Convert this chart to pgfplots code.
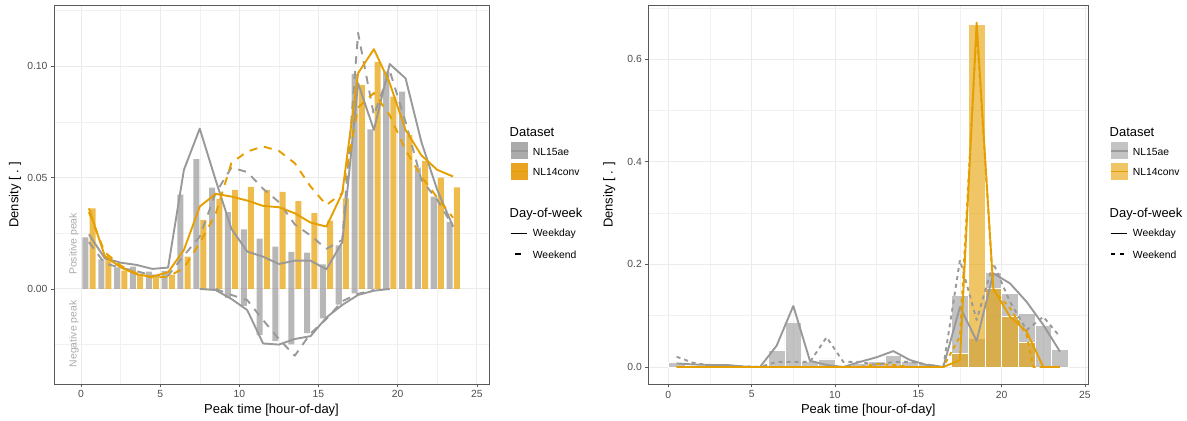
\documentclass[border=0pt]{standalone}
\usepackage{fontspec}
\setmainfont{Liberation Sans}
\usepackage{pgfplots}
\usepackage{pgfplotstable}
\pgfplotsset{compat=1.18}

\definecolor{nlgrey}{HTML}{999999}
\definecolor{nlorange}{HTML}{E69F00}
\definecolor{gridcol}{HTML}{EBEBEB}
\definecolor{ticktext}{HTML}{4D4D4D}
\definecolor{framecol}{HTML}{595959}
\definecolor{annot}{HTML}{ABABAB}

% ---- left panel: hourly peak densities, positive and negative ----
\pgfplotstableread{
h grey orange
0 0.0232 0.0362
1 0.0133 0.0148
2 0.0097 0.0082
3 0.0100 0.0067
4 0.0078 0.0055
5 0.0081 0.0064
6 0.0424 0.0145
7 0.0583 0.0310
8 0.0455 0.0405
9 0.0345 0.0445
10 0.0268 0.0458
11 0.0226 0.0445
12 0.0190 0.0436
13 0.0166 0.0394
14 0.0163 0.0340
15 0.0110 0.0307
16 0.0196 0.0407
17 0.0966 0.0916
18 0.0717 0.1020
19 0.0976 0.0864
20 0.0886 0.0692
21 0.0545 0.0575
22 0.0415 0.0500
23 0.0300 0.0456
}\leftpos

\pgfplotstableread{
h neg
9 -0.0040
10 -0.0076
11 -0.0207
12 -0.0234
13 -0.0249
14 -0.0199
15 -0.0132
16 -0.0070
17 -0.0020
}\leftneg

\pgfplotstableread{
t gs gd os od
0.5 0.0245 0.0210 0.0362 0.0345
1.5 0.0138 0.0115 0.0148 0.0165
2.5 0.0118 0.0095 0.0097 0.0105
3.5 0.0108 0.0080 0.0066 0.0070
4.5 0.0090 0.0060 0.0055 0.0050
5.5 0.0096 0.0060 0.0075 0.0055
6.5 0.0535 0.0150 0.0175 0.0094
7.5 0.0720 0.0235 0.0370 0.0207
8.5 0.0490 0.0430 0.0427 0.0335
9.5 0.0270 0.0545 0.0415 0.0566
10.5 0.0168 0.0525 0.0397 0.0617
11.5 0.0145 0.0450 0.0373 0.0640
12.5 0.0112 0.0390 0.0367 0.0620
13.5 0.0127 0.0290 0.0340 0.0565
14.5 0.0127 0.0240 0.0298 0.0460
15.5 0.0088 0.0180 0.0280 0.0377
16.5 0.0210 0.0220 0.0430 0.0430
17.5 0.0924 0.1150 0.0969 0.0815
18.5 0.0714 0.0780 0.1077 0.0880
19.5 0.1010 0.0980 0.0924 0.0780
20.5 0.0946 0.0750 0.0714 0.0624
21.5 0.0660 0.0490 0.0600 0.0505
22.5 0.0445 0.0400 0.0535 0.0410
23.5 0.0280 0.0280 0.0505 0.0320
}\leftlines

% ---- right panel: overlapping histograms ----
\pgfplotstableread{
h grey
0 0.0090
1 0.0040
2 0.0030
3 0.0030
4 0.0010
6 0.0320
7 0.0880
8 0.0120
9 0.0156
10 0.0030
11 0.0080
12 0.0117
13 0.0230
14 0.0117
15 0.0070
17 0.1400
18 0.0560
19 0.1845
20 0.1435
21 0.1046
22 0.0818
23 0.0344
}\rightgrey

\pgfplotstableread{
h orange
17 0.0266
18 0.6680
19 0.1530
20 0.0980
21 0.0490
}\rightorange

\pgfplotstableread{
t gs gd os
0.5 0.0070 0.0200 0
1.5 0.0050 0.0080 0
2.5 0.0040 0.0030 0
3.5 0.0040 0.0020 0
4.5 0.0010 0.0010 0
5.5 0.0000 0.0000 0
6.5 0.0415 0.0100 0
7.5 0.1190 0.0100 0
8.5 0.0120 0.0100 0
9.5 0.0040 0.0580 0
10.5 0.0000 0.0100 0
11.5 0.0100 0.0100 0
12.5 0.0190 0.0040 0
13.5 0.0310 0.0100 0
14.5 0.0136 0.0100 0
15.5 0.0040 0.0050 0
16.5 0.0000 0.0000 0
17.5 0.1170 0.2085 0.0136
18.5 0.0510 0.0916 0.6710
19.5 0.1825 0.2020 0.1530
20.5 0.1630 0.1270 0.0980
21.5 0.1270 0.0720 0.0690
22.5 0.0820 0.0980 0
23.5 0.0300 0.0590 0
}\rightlines

\pgfplotsset{
  panel/.style={
    scale only axis, anchor=south west,
    axis line style={draw=framecol, line width=0.6bp},
    tick style={color=framecol, line width=0.6bp},
    tick align=outside, major tick length=3bp, minor tick length=0pt,
    xtick pos=bottom, ytick pos=left,
    grid=both,
    major grid style={draw=gridcol, line width=0.9bp},
    minor grid style={draw=gridcol!70, line width=0.5bp},
    ticklabel style={font=\fontsize{10.4}{12}\selectfont, text=ticktext},
    /pgf/number format/assume math mode=true,
    scaled ticks=false,
    every axis x label/.style={at={(rel axis cs:0.5,0)}, yshift=-26bp, anchor=center, font=\fontsize{13}{15}\selectfont},
    every axis y label/.style={at={(rel axis cs:0,0.5)}, xshift=-39bp, rotate=90, anchor=center, font=\fontsize{13}{15}\selectfont},
    xlabel={Peak time [hour-of-day]},
    ylabel={Density [ . ]},
    xtick={0,5,10,15,20,25},
    minor xtick={2.5,7.5,12.5,17.5,22.5},
  },
  ln/.style={line width=1.9bp, line join=round, no markers},
}

\begin{document}
\begin{tikzpicture}
\path[use as bounding box] (0,0) rectangle (1187bp,421bp);

\begin{axis}[panel,
  at={(54bp,37bp)}, width=435bp, height=378.7bp,
  xmin=-1.706, xmax=25.77, ymin=-0.0427, ymax=0.1274,
  ytick={0,0.05,0.1}, minor ytick={-0.025,0.025,0.075,0.125},
  yticklabel style={/pgf/number format/.cd, fixed, fixed zerofill, precision=2},
]
\addplot[ybar, bar width=0.38, bar shift=0pt, fill=nlgrey, fill opacity=0.7, draw=none]
  table[x expr=\thisrow{h}+0.28, y=grey] {\leftpos};
\addplot[ybar, bar width=0.38, bar shift=0pt, fill=nlorange, fill opacity=0.7, draw=none]
  table[x expr=\thisrow{h}+0.735, y=orange] {\leftpos};
\addplot[ybar, bar width=0.38, bar shift=0pt, fill=nlgrey, fill opacity=0.7, draw=none]
  table[x expr=\thisrow{h}+0.28, y=neg] {\leftneg};

\addplot[ln, nlgrey] table[x=t, y=gs] {\leftlines};
\addplot[ln, nlgrey, dash pattern=on 8bp off 7bp] table[x=t, y=gd] {\leftlines};
\addplot[ln, nlgrey] coordinates {
  (7.5,0) (8.5,-0.0005) (9.5,-0.0045) (10.5,-0.0095) (11.5,-0.0245) (12.5,-0.0250)
  (13.5,-0.0225) (14.5,-0.0212) (15.5,-0.0128) (16.5,-0.0072) (17.5,-0.0027)
  (18.5,-0.0008) (19.5,0)};
\addplot[ln, nlgrey, dash pattern=on 8bp off 7bp] coordinates {
  (8.5,0) (9.5,-0.0027) (10.5,-0.0050) (11.5,-0.0140) (12.5,-0.0225) (13.5,-0.0300)
  (14.5,-0.0200) (15.5,-0.0135) (16.5,-0.0055) (17.5,-0.0022) (18.5,-0.0005)};
\addplot[ln, nlorange] table[x=t, y=os] {\leftlines};
\addplot[ln, nlorange, dash pattern=on 8bp off 7bp] table[x=t, y=od] {\leftlines};

\node[rotate=90, text=annot, font=\fontsize{10.4}{12}\selectfont] at (axis cs:-0.44,0.0202) {Positive peak};
\node[rotate=90, text=annot, font=\fontsize{10.4}{12}\selectfont] at (axis cs:-0.44,-0.0202) {Negative peak};
\end{axis}

\begin{axis}[panel,
  at={(648.3bp,36.7bp)}, width=440bp, height=378.6bp,
  xmin=-1.2, xmax=25.2, ymin=-0.0337, ymax=0.704,
  ytick={0,0.2,0.4,0.6}, minor ytick={0.1,0.3,0.5,0.7},
  yticklabel style={/pgf/number format/.cd, fixed, fixed zerofill, precision=1},
]
\addplot[ybar, bar width=1, bar shift=0pt, fill=nlgrey, fill opacity=0.6, draw=white, line width=0.6bp]
  table[x expr=\thisrow{h}+0.5, y=grey] {\rightgrey};
\addplot[ybar, bar width=1, bar shift=0pt, fill=nlorange, fill opacity=0.6, draw=white, line width=0.6bp]
  table[x expr=\thisrow{h}+0.5, y=orange] {\rightorange};

\addplot[ln, nlgrey] table[x=t, y=gs] {\rightlines};
\addplot[ln, nlgrey, dash pattern=on 4bp off 4bp] table[x=t, y=gd] {\rightlines};
\addplot[ln, nlorange] table[x=t, y=os] {\rightlines};
\addplot[ln, nlorange, dash pattern=on 4bp off 4bp] coordinates {
  (0.5,0) (11.5,0) (12.5,0.006) (13.5,0.004) (14.5,0) (16.5,0) (17.5,0.060)
  (18.5,0.660) (19.5,0.150) (20.5,0.115) (21.5,0.062) (21.9,0) (23.5,0)};
\end{axis}

% legends
\begin{scope}[x=1bp, y=1bp]
\foreach \ox/\gfill/\ofill in {0/ABABAB/EAA320, 600/C4C4C4/F0C566} {
  \begin{scope}[xshift=\ox bp]
    \definecolor{kg}{HTML}{\gfill}
    \definecolor{ko}{HTML}{\ofill}
    \node[anchor=west, inner sep=0pt, font=\fontsize{13}{15}\selectfont] at (509.5,289) {Dataset};
    \fill[kg] (510.5,261.5) rectangle (527.8,278.5);
    \draw[nlgrey, line width=1.5bp] (510.5,270) -- (527.8,270);
    \fill[ko] (510.5,241) rectangle (527.8,258);
    \draw[nlorange, line width=1.5bp] (510.5,249.5) -- (527.8,249.5);
    \node[anchor=west, inner sep=0pt, font=\fontsize{10.4}{12}\selectfont] at (532.7,269.5) {NL15ae};
    \node[anchor=west, inner sep=0pt, font=\fontsize{10.4}{12}\selectfont] at (532.7,249) {NL14conv};
    \node[anchor=west, inner sep=0pt, font=\fontsize{13}{15}\selectfont] at (509.5,206.5) {Day-of-week};
    \draw[black, line width=1.9bp] (510.7,187.5) -- (527.3,187.5);
    \node[anchor=west, inner sep=0pt, font=\fontsize{10.4}{12}\selectfont] at (532.7,187.5) {Weekday};
    \node[anchor=west, inner sep=0pt, font=\fontsize{10.4}{12}\selectfont] at (532.7,166.5) {Weekend};
  \end{scope}
}
\draw[black, line width=1.9bp] (515,167) -- (521,167);
\draw[black, line width=1.9bp] (1110.7,167) -- (1115.2,167);
\draw[black, line width=1.9bp] (1119.5,167) -- (1124,167);
\end{scope}
\end{tikzpicture}
\end{document}
